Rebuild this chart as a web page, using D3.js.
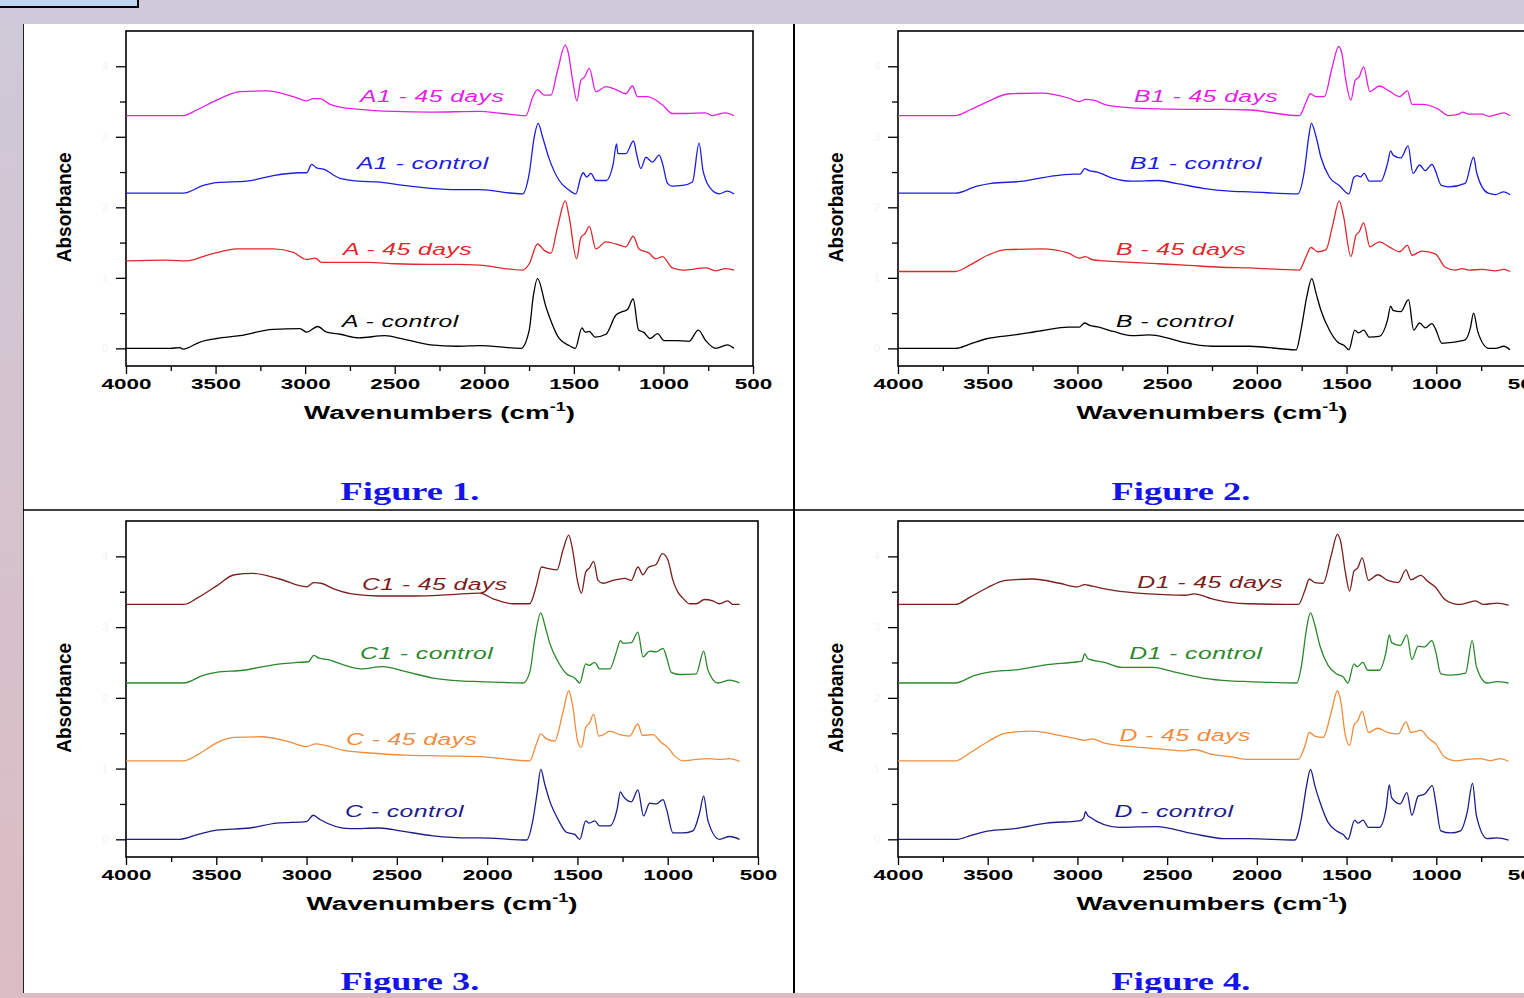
<!DOCTYPE html>
<html>
<head>
<meta charset="utf-8">
<script src="https://cdn.jsdelivr.net/npm/d3@7"></script>
<style>
  body { margin: 0; background: #d6c4cf; }
  svg { display: block; }
</style>
</head>
<body>
<div id="chart"></div>
<script>
// FTIR spectra, [wavenumber, absorbance]

// Figure 1
const a1Days = [[4000,3.30],[3680,3.30],[3605,3.38],[3494,3.52],[3364,3.64],[3215,3.65],[3066,3.57],[2991,3.51],[2955,3.54],[2917,3.54],[2861,3.46],[2805,3.42],[2700,3.39],[2500,3.36],[2300,3.35],[2028,3.36],[1900,3.33],[1768,3.30],[1730,3.56],[1703,3.67],[1665,3.59],[1628,3.59],[1591,3.94],[1548,4.30],[1530,4.18],[1507,3.80],[1483,3.51],[1461,3.80],[1440,3.85],[1414,3.97],[1377,3.64],[1321,3.71],[1266,3.67],[1210,3.61],[1173,3.72],[1145,3.57],[1089,3.57],[1005,3.45],[950,3.33],[875,3.33],[764,3.34],[727,3.30],[653,3.34],[606,3.30]]
const a1Control = [[4000,2.20],[3680,2.20],[3568,2.31],[3494,2.35],[3326,2.37],[3178,2.45],[3029,2.49],[2991,2.49],[2964,2.61],[2936,2.56],[2899,2.54],[2805,2.41],[2700,2.37],[2600,2.36],[2450,2.31],[2300,2.27],[2150,2.25],[2028,2.25],[1786,2.19],[1749,2.48],[1721,3.00],[1699,3.19],[1675,3.00],[1638,2.69],[1582,2.38],[1535,2.26],[1489,2.19],[1461,2.43],[1448,2.49],[1429,2.43],[1405,2.48],[1377,2.38],[1321,2.38],[1280,2.62],[1262,2.90],[1254,2.76],[1210,2.76],[1167,2.94],[1150,2.76],[1126,2.55],[1098,2.71],[1061,2.64],[1024,2.74],[1005,2.62],[977,2.34],[950,2.30],[894,2.31],[838,2.36],[801,2.91],[779,2.52],[727,2.24],[689,2.19],[643,2.23],[606,2.19]]
const aDays = [[4000,1.24],[3773,1.25],[3661,1.24],[3550,1.32],[3438,1.39],[3382,1.41],[3178,1.41],[3066,1.36],[2991,1.26],[2945,1.28],[2908,1.22],[2805,1.22],[2650,1.22],[2500,1.20],[2300,1.19],[2150,1.19],[2028,1.18],[1786,1.11],[1749,1.20],[1703,1.48],[1665,1.39],[1628,1.35],[1591,1.72],[1548,2.09],[1526,1.86],[1485,1.27],[1461,1.57],[1437,1.63],[1414,1.73],[1377,1.41],[1321,1.51],[1266,1.48],[1210,1.44],[1169,1.59],[1136,1.41],[1080,1.35],[1043,1.27],[1005,1.30],[950,1.14],[894,1.11],[764,1.14],[708,1.10],[653,1.13],[606,1.11]]
const aControl = [[4000,0],[3754,0],[3700,0.01],[3682,-0.01],[3587,0.09],[3494,0.14],[3364,0.18],[3179,0.27],[3029,0.28],[2991,0.23],[2930,0.31],[2880,0.23],[2805,0.20],[2700,0.15],[2554,0.18],[2450,0.13],[2300,0.05],[2150,0.03],[2028,0.04],[1796,0],[1749,0.26],[1727,0.73],[1703,0.99],[1656,0.59],[1582,0.14],[1526,0.04],[1492,0],[1455,0.29],[1437,0.23],[1414,0.24],[1381,0.16],[1321,0.20],[1266,0.47],[1229,0.52],[1201,0.55],[1169,0.70],[1139,0.26],[1111,0.23],[1074,0.14],[1033,0.21],[996,0.11],[931,0.11],[857,0.10],[805,0.26],[764,0.11],[708,0],[643,0.05],[606,0]]

// Figure 2
const b1Days = [[4000,3.30],[3680,3.30],[3600,3.38],[3500,3.50],[3380,3.61],[3200,3.62],[3050,3.55],[2990,3.50],[2955,3.53],[2910,3.52],[2850,3.46],[2750,3.42],[2600,3.40],[2400,3.39],[2200,3.39],[2041,3.38],[1763,3.30],[1726,3.49],[1702,3.61],[1670,3.57],[1624,3.57],[1580,3.99],[1544,4.28],[1526,4.18],[1504,3.80],[1476,3.52],[1452,3.80],[1430,3.85],[1405,3.99],[1370,3.64],[1318,3.72],[1263,3.65],[1205,3.57],[1161,3.65],[1135,3.46],[1080,3.46],[994,3.40],[931,3.30],[874,3.32],[855,3.35],[818,3.32],[744,3.32],[707,3.29],[624,3.34],[589,3.30]]
const b1Control = [[4000,2.20],[3680,2.20],[3560,2.30],[3480,2.34],[3300,2.37],[3150,2.44],[3020,2.47],[2985,2.47],[2960,2.55],[2935,2.52],[2890,2.50],[2800,2.41],[2700,2.37],[2550,2.38],[2450,2.34],[2300,2.27],[2150,2.23],[2041,2.22],[1772,2.19],[1735,2.52],[1711,3.00],[1696,3.19],[1670,3.00],[1643,2.71],[1596,2.43],[1541,2.31],[1487,2.19],[1458,2.43],[1440,2.45],[1422,2.43],[1402,2.48],[1374,2.37],[1309,2.37],[1272,2.62],[1254,2.80],[1241,2.74],[1198,2.70],[1157,2.87],[1130,2.48],[1093,2.60],[1061,2.52],[1024,2.61],[1005,2.52],[972,2.31],[931,2.29],[839,2.34],[792,2.71],[774,2.48],[711,2.20],[670,2.18],[624,2.22],[589,2.18]]
const bDays = [[4000,1.09],[3680,1.09],[3600,1.18],[3500,1.32],[3400,1.40],[3200,1.41],[3050,1.35],[2990,1.28],[2955,1.30],[2920,1.26],[2850,1.24],[2700,1.22],[2550,1.20],[2400,1.18],[2200,1.15],[2041,1.14],[1763,1.11],[1726,1.30],[1698,1.43],[1661,1.37],[1615,1.40],[1578,1.74],[1541,2.09],[1518,1.89],[1476,1.30],[1448,1.60],[1430,1.65],[1405,1.78],[1370,1.44],[1318,1.51],[1263,1.44],[1205,1.37],[1161,1.46],[1135,1.32],[1080,1.38],[1005,1.34],[950,1.15],[894,1.11],[855,1.13],[818,1.11],[744,1.12],[670,1.10],[624,1.12],[589,1.09]]
const bControl = [[4000,0],[3680,0],[3600,0.06],[3500,0.14],[3350,0.19],[3200,0.25],[3050,0.30],[2990,0.30],[2960,0.36],[2935,0.33],[2880,0.30],[2800,0.24],[2700,0.18],[2600,0.19],[2500,0.15],[2400,0.08],[2250,0.03],[2041,0.03],[1781,-0.02],[1754,0.26],[1722,0.73],[1694,0.99],[1670,0.78],[1643,0.54],[1596,0.26],[1550,0.09],[1513,0.04],[1487,-0.02],[1454,0.26],[1435,0.22],[1404,0.26],[1374,0.16],[1318,0.17],[1272,0.40],[1254,0.60],[1241,0.54],[1198,0.52],[1155,0.69],[1126,0.26],[1093,0.36],[1061,0.29],[1024,0.35],[1005,0.28],[968,0.07],[931,0.08],[839,0.12],[811,0.28],[792,0.50],[768,0.23],[707,0],[670,0],[624,0.03],[589,-0.02]]

// Figure 3
const c1Days = [[4000,3.32],[3680,3.32],[3600,3.42],[3500,3.58],[3400,3.74],[3300,3.76],[3150,3.68],[3000,3.57],[2960,3.63],[2920,3.62],[2850,3.54],[2750,3.47],[2600,3.44],[2400,3.44],[2200,3.46],[2041,3.48],[1967,3.40],[1856,3.33],[1764,3.33],[1727,3.59],[1699,3.85],[1663,3.83],[1613,3.81],[1580,4.09],[1548,4.30],[1528,4.11],[1497,3.62],[1478,3.48],[1454,3.78],[1432,3.84],[1410,3.93],[1386,3.66],[1358,3.62],[1303,3.66],[1238,3.69],[1202,3.66],[1165,3.85],[1137,3.74],[1109,3.84],[1063,3.89],[1030,4.04],[999,3.95],[971,3.66],[943,3.49],[916,3.41],[879,3.33],[842,3.33],[796,3.39],[750,3.37],[713,3.33],[667,3.37],[639,3.32],[602,3.32]]
const c1Control = [[4000,2.21],[3680,2.21],[3580,2.31],[3500,2.36],[3350,2.39],[3200,2.46],[3050,2.50],[2990,2.51],[2960,2.60],[2930,2.56],[2880,2.54],[2800,2.47],[2700,2.41],[2580,2.44],[2450,2.37],[2300,2.28],[2150,2.24],[2041,2.23],[1801,2.21],[1764,2.36],[1736,2.84],[1703,3.20],[1681,3.03],[1653,2.77],[1607,2.51],[1561,2.34],[1515,2.28],[1487,2.21],[1454,2.48],[1435,2.46],[1404,2.50],[1377,2.41],[1321,2.41],[1284,2.65],[1262,2.81],[1247,2.77],[1201,2.78],[1165,2.93],[1137,2.58],[1100,2.66],[1063,2.65],[1026,2.70],[1007,2.58],[980,2.36],[934,2.33],[842,2.34],[801,2.66],[777,2.39],[722,2.21],[657,2.25],[602,2.21]]
const cDays = [[4000,1.11],[3680,1.11],[3600,1.20],[3500,1.36],[3400,1.44],[3250,1.45],[3100,1.38],[3000,1.31],[2950,1.35],[2900,1.33],[2800,1.26],[2650,1.22],[2450,1.19],[2250,1.18],[2041,1.17],[1764,1.11],[1727,1.35],[1703,1.49],[1672,1.42],[1626,1.39],[1580,1.80],[1548,2.10],[1528,1.91],[1497,1.37],[1478,1.30],[1454,1.58],[1432,1.65],[1410,1.77],[1382,1.46],[1354,1.48],[1321,1.53],[1266,1.48],[1211,1.46],[1165,1.63],[1141,1.47],[1082,1.48],[1036,1.37],[999,1.30],[962,1.18],[916,1.11],[842,1.13],[768,1.14],[713,1.13],[657,1.14],[602,1.10]]
const cControl = [[4000,0],[3701,0],[3600,0.07],[3498,0.13],[3313,0.16],[3165,0.23],[3000,0.25],[2963,0.34],[2926,0.28],[2760,0.15],[2594,0.16],[2483,0.12],[2300,0.05],[2100,0.02],[2041,0.02],[1782,-0.01],[1746,0.28],[1723,0.66],[1703,0.99],[1681,0.78],[1653,0.54],[1607,0.28],[1561,0.10],[1515,0.07],[1487,0],[1454,0.26],[1435,0.23],[1404,0.26],[1377,0.19],[1321,0.19],[1280,0.43],[1262,0.67],[1247,0.61],[1201,0.53],[1165,0.70],[1134,0.33],[1100,0.51],[1063,0.50],[1026,0.56],[1007,0.43],[971,0.09],[916,0.09],[860,0.12],[823,0.38],[801,0.61],[777,0.26],[713,0],[657,0.04],[602,0]]

// Figure 4
const d1Days = [[4000,3.32],[3680,3.32],[3600,3.42],[3500,3.56],[3400,3.66],[3250,3.68],[3100,3.62],[3000,3.57],[2960,3.60],[2920,3.58],[2800,3.52],[2600,3.47],[2400,3.45],[2350,3.47],[2250,3.40],[2150,3.35],[2046,3.33],[1769,3.32],[1732,3.52],[1708,3.68],[1677,3.63],[1631,3.62],[1585,4.02],[1551,4.31],[1533,4.21],[1507,3.78],[1483,3.51],[1459,3.79],[1437,3.84],[1413,3.98],[1378,3.66],[1326,3.74],[1271,3.66],[1212,3.63],[1169,3.81],[1142,3.67],[1086,3.73],[1049,3.65],[1003,3.56],[957,3.40],[902,3.33],[865,3.32],[782,3.37],[736,3.32],[662,3.34],[597,3.31]]
const d1Control = [[4000,2.21],[3680,2.21],[3580,2.31],[3500,2.36],[3330,2.40],[3170,2.47],[3000,2.51],[2975,2.52],[2960,2.62],[2940,2.55],[2850,2.50],[2750,2.43],[2580,2.43],[2450,2.36],[2300,2.28],[2150,2.24],[2046,2.23],[1778,2.21],[1751,2.46],[1723,2.98],[1701,3.20],[1677,3.03],[1649,2.74],[1603,2.46],[1557,2.34],[1520,2.30],[1492,2.21],[1459,2.48],[1441,2.44],[1409,2.50],[1382,2.39],[1317,2.39],[1280,2.65],[1262,2.89],[1249,2.78],[1201,2.74],[1164,2.89],[1136,2.54],[1101,2.73],[1064,2.72],[1025,2.81],[1003,2.65],[975,2.34],[920,2.32],[837,2.35],[800,2.81],[776,2.44],[717,2.21],[662,2.23],[597,2.21]]
const dDays = [[4000,1.11],[3680,1.11],[3600,1.22],[3500,1.38],[3400,1.50],[3250,1.53],[3100,1.47],[3000,1.42],[2960,1.40],[2920,1.42],[2850,1.36],[2700,1.31],[2550,1.28],[2400,1.25],[2350,1.27],[2250,1.20],[2150,1.17],[2046,1.13],[1769,1.13],[1732,1.32],[1708,1.51],[1677,1.46],[1631,1.44],[1585,1.80],[1551,2.10],[1533,1.96],[1507,1.47],[1483,1.33],[1459,1.61],[1437,1.68],[1413,1.81],[1378,1.51],[1326,1.57],[1271,1.51],[1212,1.49],[1169,1.66],[1142,1.51],[1086,1.54],[1040,1.42],[1003,1.35],[957,1.17],[892,1.11],[828,1.13],[754,1.14],[699,1.11],[643,1.14],[597,1.10]]
const dControl = [[4000,0],[3669,0],[3600,0.05],[3494,0.12],[3350,0.15],[3173,0.23],[2990,0.26],[2965,0.30],[2955,0.39],[2940,0.33],[2767,0.17],[2562,0.18],[2356,0.08],[2181,0.01],[2046,0.01],[1788,-0.01],[1751,0.31],[1723,0.76],[1701,0.99],[1677,0.76],[1649,0.53],[1603,0.24],[1557,0.12],[1520,0.07],[1492,0],[1455,0.27],[1437,0.23],[1409,0.27],[1378,0.17],[1317,0.17],[1280,0.43],[1262,0.77],[1249,0.59],[1201,0.50],[1164,0.66],[1136,0.34],[1101,0.61],[1064,0.64],[1022,0.76],[1003,0.52],[975,0.12],[920,0.09],[865,0.12],[828,0.38],[798,0.79],[776,0.33],[717,0.01],[662,0.02],[597,-0.01]]

// labels and where they sit, in [wavenumber, absorbance]
const names1 = ['A1 - 45 days', 'A1 - control', 'A - 45 days', 'A - control']
const names2 = ['B1 - 45 days', 'B1 - control', 'B - 45 days', 'B - control']
const names3 = ['C1 - 45 days', 'C1 - control', 'C - 45 days', 'C - control']
const names4 = ['D1 - 45 days', 'D1 - control', 'D - 45 days', 'D - control']
const labelAt1 = [[2694,3.50],[2711,2.54],[2789,1.32],[2794,0.31]]
const labelAt2 = [[2685,3.50],[2707,2.54],[2785,1.32],[2785,0.31]]
const labelAt3 = [[2693,3.52],[2704,2.55],[2782,1.33],[2787,0.31]]
const labelAt4 = [[2666,3.55],[2711,2.55],[2766,1.39],[2794,0.31]]
const colorsTop = ['#e41ee4', '#1c1ce0', '#e0282c', '#000000']
const colorsBottom = ['#7a1e1e', '#2a882a', '#f08c3c', '#1c1c8c']
const captions = ['Figure 1.', 'Figure 2.', 'Figure 3.', 'Figure 4.']

const xMajor = [4000, 3500, 3000, 2500, 2000, 1500, 1000, 500]
const xMinor = [3750, 3250, 2750, 2250, 1750, 1250, 750]
const yMajor = [0, 1, 2, 3, 4]
const yMinor = [0.5, 1.5, 2.5, 3.5]

var width = 1524
var height = 998
// the original scan is stretched sideways, text included
var stretch = 1.5
var sans = 'Liberation Sans, Arial, sans-serif'

var svg = d3.select('#chart').append('svg').attr('width', width).attr('height', height)

// page background
var defs = svg.append('defs')
var grad = defs.append('linearGradient').attr('id', 'bg').attr('x1', 0).attr('y1', 0).attr('x2', 0).attr('y2', 1)
grad.append('stop').attr('offset', '0%').attr('stop-color', '#cfc9d9')
grad.append('stop').attr('offset', '100%').attr('stop-color', '#dbbcc2')
svg.append('rect').attr('width', width).attr('height', height).attr('fill', 'url(#bg)')

// little box at top-left
svg.append('rect').attr('x', -2).attr('y', -2).attr('width', 140).attr('height', 9)
    .attr('fill', '#bfd6f0').attr('stroke', '#000').attr('stroke-width', 2)

// white sheet
svg.append('rect').attr('x', 23).attr('y', 24).attr('width', width - 23).attr('height', 969).attr('fill', '#fff')
svg.append('line').attr('x1', 23.5).attr('x2', 23.5).attr('y1', 24).attr('y2', 993).attr('stroke', '#222').attr('stroke-width', 1)

// dividers
svg.append('line').attr('x1', 794).attr('x2', 794).attr('y1', 24).attr('y2', 993).attr('stroke', '#000').attr('stroke-width', 2)
svg.append('line').attr('x1', 23).attr('x2', width).attr('y1', 510).attr('y2', 510).attr('stroke', '#000').attr('stroke-width', 1.5)

var panels = [
    { left: 126, right: 753, top: 31, bottom: 366, series: [a1Days, a1Control, aDays, aControl], names: names1, labelAt: labelAt1, colors: colorsTop, capX: 410, capY: 500 },
    { left: 898, right: 1526, top: 31, bottom: 366, series: [b1Days, b1Control, bDays, bControl], names: names2, labelAt: labelAt2, colors: colorsTop, capX: 1181, capY: 500 },
    { left: 126, right: 758, top: 521, bottom: 857, series: [c1Days, c1Control, cDays, cControl], names: names3, labelAt: labelAt3, colors: colorsBottom, capX: 410, capY: 990 },
    { left: 898, right: 1526, top: 521, bottom: 857, series: [d1Days, d1Control, dDays, dControl], names: names4, labelAt: labelAt4, colors: colorsBottom, capX: 1181, capY: 990 }
]

panels.forEach(function (p, k) {
    var x = d3.scaleLinear().domain([4000, 500]).range([p.left, p.right])
    var y = d3.scaleLinear().domain([-0.25, 4.5]).range([p.bottom, p.top])
    var g = svg.append('g')

    // x axis, major + minor
    g.append('g').attr('transform', `translate(0,${p.bottom})`)
        .call(d3.axisBottom(x).tickValues(xMinor).tickSize(5).tickFormat(''))
        .call(a => a.select('.domain').remove())
    var gx = g.append('g').attr('transform', `translate(0,${p.bottom})`)
        .call(d3.axisBottom(x).tickValues(xMajor).tickSize(8).tickPadding(4).tickFormat(d3.format('d')))
    gx.select('.domain').remove()
    gx.selectAll('text').attr('font-family', sans)
        .attr('font-size', 15).attr('font-weight', 'bold').attr('fill', '#000')
        .attr('transform', `scale(${stretch},1)`)

    // y axis, labels are almost white in the original
    g.append('g').attr('transform', `translate(${p.left},0)`)
        .call(d3.axisLeft(y).tickValues(yMinor).tickSize(6).tickFormat(''))
        .call(a => a.select('.domain').remove())
    var gy = g.append('g').attr('transform', `translate(${p.left},0)`)
        .call(d3.axisLeft(y).tickValues(yMajor).tickSize(10).tickPadding(8).tickFormat(d3.format('d')))
    gy.select('.domain').remove()
    gy.selectAll('text').attr('fill', '#f4f4f4').attr('font-size', 11).attr('font-family', sans)
    g.selectAll('.tick line').attr('stroke', '#000').attr('stroke-width', 1.3)

    // frame
    g.append('rect').attr('x', p.left).attr('y', p.top)
        .attr('width', p.right - p.left).attr('height', p.bottom - p.top)
        .attr('fill', 'none').attr('stroke', '#000').attr('stroke-width', 1.6)

    // spectra
    var line = d3.line().x(d => x(d[0])).y(d => y(d[1])).curve(d3.curveMonotoneX)
    g.selectAll('path.spec').data(p.series).join('path').attr('class', 'spec')
        .attr('d', line).attr('fill', 'none')
        .attr('stroke', (d, i) => p.colors[i]).attr('stroke-width', 1.3)
        .attr('stroke-linejoin', 'round')

    // series labels
    g.selectAll('g.lab').data(p.names).join('g').attr('class', 'lab')
        .attr('transform', (d, i) => `translate(${x(p.labelAt[i][0])},${y(p.labelAt[i][1])})`)
        .append('text')
        .attr('transform', `scale(${stretch},1)`)
        .attr('fill', (d, i) => p.colors[i])
        .attr('font-family', sans).attr('font-style', 'italic')
        .attr('font-size', 16.5).attr('letter-spacing', 0.3)
        .text(d => d)

    // Absorbance
    g.append('text')
        .attr('transform', `translate(${p.left - 55},${y(2)}) rotate(-90)`)
        .attr('text-anchor', 'middle')
        .attr('font-family', sans).attr('font-weight', 'bold')
        .attr('font-size', 20).attr('textLength', 110).attr('lengthAdjust', 'spacingAndGlyphs')
        .text('Absorbance')

    // Wavenumbers (cm-1)
    var xt = g.append('g').attr('transform', `translate(${(p.left + p.right) / 2},${p.bottom + 53})`)
        .append('text').attr('transform', `scale(${stretch},1)`)
        .attr('text-anchor', 'middle')
        .attr('font-family', sans).attr('font-weight', 'bold')
        .attr('font-size', 18.5)
    xt.append('tspan').text('Wavenumbers (cm')
    xt.append('tspan').attr('font-size', 12).attr('dy', -8).text('-1')
    xt.append('tspan').attr('dy', 8).text(')')

    // caption
    svg.append('g').attr('transform', `translate(${p.capX},${p.capY})`)
        .append('text').attr('transform', 'scale(1.4,1)').attr('text-anchor', 'middle')
        .attr('font-family', 'Liberation Serif, DejaVu Serif, serif').attr('font-weight', 'bold')
        .attr('font-size', 26).attr('fill', '#1414e8')
        .text(captions[k])
})

// bottom strip covers the lower captions, as in the original
svg.append('rect').attr('x', 0).attr('y', 993).attr('width', width).attr('height', 5).attr('fill', '#dbbcc2')
</script>
</body>
</html>
